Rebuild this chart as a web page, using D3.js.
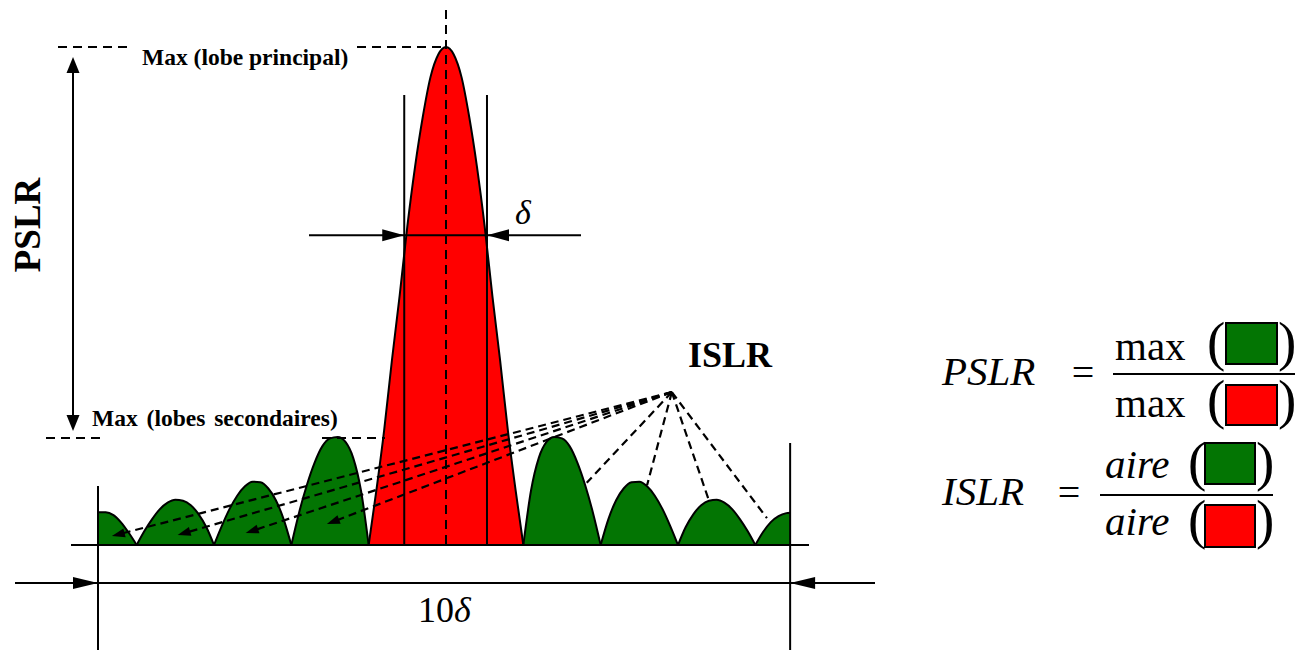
<!DOCTYPE html>
<html><head><meta charset="utf-8">
<script src="https://cdn.jsdelivr.net/npm/d3@7"></script>
<style>body{margin:0;background:#fff}svg{display:block}</style>
</head><body>
<svg id="c" width="1309" height="650"></svg>
<script>
// ---------- data (x in lobe-zero units, amplitude normalised to main peak) ----------
const mainLobeX   = [-1,-0.9,-0.8,-0.7,-0.6,-0.5,-0.4,-0.3,-0.2,-0.1,0,0.1,0.2,0.3,0.4,0.5,0.6,0.7,0.8,0.9,1];
const mainLobeAmp = [0,0.11,0.23,0.37,0.50,0.64,0.76,0.86,0.94,0.985,1,0.985,0.94,0.86,0.76,0.64,0.50,0.37,0.23,0.11,0];

const sideLobeX = [
  [-4.5,-4.4,-4.3,-4.2,-4.1,-4.0],
  [-4.0,-3.9,-3.8,-3.7,-3.6,-3.5,-3.4,-3.3,-3.2,-3.1,-3.0],
  [-3.0,-2.9,-2.8,-2.7,-2.6,-2.5,-2.4,-2.3,-2.2,-2.1,-2.0],
  [-2.0,-1.9,-1.8,-1.7,-1.6,-1.5,-1.4,-1.3,-1.2,-1.1,-1.0],
  [1.0,1.1,1.2,1.3,1.4,1.5,1.6,1.7,1.8,1.9,2.0],
  [2.0,2.1,2.2,2.3,2.4,2.5,2.6,2.7,2.8,2.9,3.0],
  [3.0,3.1,3.2,3.3,3.4,3.5,3.6,3.7,3.8,3.9,4.0],
  [4.0,4.1,4.2,4.3,4.4,4.45]
];
const sideLobeAmp = [
  [0.066,0.066,0.060,0.045,0.024,0],
  [0,0.028,0.052,0.072,0.085,0.091,0.089,0.080,0.062,0.036,0],
  [0,0.038,0.072,0.099,0.118,0.127,0.126,0.114,0.090,0.052,0],
  [0,0.065,0.12,0.165,0.198,0.214,0.217,0.207,0.175,0.11,0],
  [0,0.11,0.175,0.207,0.217,0.214,0.198,0.165,0.12,0.065,0],
  [0,0.052,0.090,0.114,0.126,0.127,0.118,0.099,0.072,0.038,0],
  [0,0.036,0.062,0.080,0.089,0.091,0.085,0.072,0.052,0.028,0],
  [0,0.026,0.046,0.058,0.064,0.065]
];

const spanEnds     = [-4.5, 4.45];      // the 10δ span
const deltaMarks   = [-0.54, 0.53];     // -3 dB width lines
const deltaLevel   = 0.622;
const sideMax      = 0.215;
const fanFocus     = [2.92, 0.307];
const fanLeftTips  = [[-4.32,0.018],[-3.47,0.02],[-2.59,0.024],[-1.54,0.042]];
const fanRightTips = [[1.82,0.125],[2.60,0.12],[3.39,0.094],[4.15,0.054]];

const labels = {
  mainMax: "Max (lobe principal)",
  sideMax: "Max (lobes secondaires)",
  pslr: "PSLR", islr: "ISLR", span: "10", delta: "δ"
};

// ---------- scales ----------
const svg = d3.select("#c");
const x = d3.scaleLinear().domain([-4.5, 4.5]).range([98, 794]);
const y = d3.scaleLinear().domain([0, 1]).range([545, 47]);

const GREEN = "#037503", RED = "#ff0000";
const serif = "'Liberation Serif','Times New Roman',serif";

function pts(xs, as){ return xs.map((v,i)=>[v, as[i]]); }
const area = d3.area().x(d=>x(d[0])).y0(y(0)).y1(d=>y(d[1])).curve(d3.curveMonotoneX);
const line = d3.line().x(d=>x(d[0])).y(d=>y(d[1])).curve(d3.curveMonotoneX);

function seg(x1,y1,x2,y2,opts={}){
  const l = svg.append("line").attr("x1",x1).attr("y1",y1).attr("x2",x2).attr("y2",y2)
    .attr("stroke","#000").attr("stroke-width",opts.w||2);
  if(opts.dash) l.attr("stroke-dasharray",opts.dash);
  return l;
}
function head(tx,ty,ang,len,wid){
  const bx = tx - len*Math.cos(ang), by = ty - len*Math.sin(ang);
  const nx = -Math.sin(ang)*wid/2, ny = Math.cos(ang)*wid/2;
  svg.append("path").attr("d",`M${tx},${ty}L${bx+nx},${by+ny}L${bx-nx},${by-ny}Z`).attr("fill","#000");
}

// ---------- lobes ----------
svg.append("path").attr("d", area(pts(mainLobeX, mainLobeAmp))).attr("fill", RED);
sideLobeX.forEach((xs,i)=>{
  svg.append("path").attr("d", area(pts(xs, sideLobeAmp[i]))).attr("fill", GREEN);
});
svg.append("path").attr("d", line(pts(mainLobeX, mainLobeAmp))).attr("fill","none").attr("stroke","#000").attr("stroke-width",2);
sideLobeX.forEach((xs,i)=>{
  svg.append("path").attr("d", line(pts(xs, sideLobeAmp[i]))).attr("fill","none").attr("stroke","#000").attr("stroke-width",2);
});

// baseline
seg(71, y(0), 809, y(0));

// span verticals and 10δ arrow
seg(x(spanEnds[0]), 486, x(spanEnds[0]), 650);
seg(x(spanEnds[1]), 443, x(spanEnds[1]), 650);
seg(15, 583, 875, 583);
head(x(spanEnds[0]), 583, 0, 25, 12);
head(x(spanEnds[1]), 583, Math.PI, 25, 12);

// δ lines and arrows
deltaMarks.forEach(d=> seg(x(d), 95, x(d), y(0)));
seg(309, y(deltaLevel), 581, y(deltaLevel));
head(x(deltaMarks[0]), y(deltaLevel), 0, 22, 12);
head(x(deltaMarks[1]), y(deltaLevel), Math.PI, 22, 12);

// centre dashed line
seg(x(0), 10, x(0), y(0), {dash:"9,6"});

// max dashed lines
seg(58, y(1), 128, y(1), {dash:"9,6"});
seg(357, y(1), x(0), y(1), {dash:"9,6"});
seg(46, y(sideMax), 101, y(sideMax), {dash:"9,6"});
seg(322, y(sideMax), 385, y(sideMax), {dash:"9,6"});

// PSLR vertical arrow
seg(73, 70, 73, 420);
head(73, 57, -Math.PI/2, 16, 13);
head(73, 431, Math.PI/2, 16, 13);

// fan of dashed lines (ISLR)
const fx = x(fanFocus[0]), fy = y(fanFocus[1]);
fanLeftTips.forEach(t=>{
  const tx = x(t[0]), ty = y(t[1]);
  const ang = Math.atan2(ty-fy, tx-fx);
  seg(fx, fy, tx - 8*Math.cos(ang), ty - 8*Math.sin(ang), {dash:"8,5", w:2.2});
  head(tx, ty, ang, 13, 9);
});
fanRightTips.forEach(t=>{
  seg(fx, fy, x(t[0]), y(t[1]), {dash:"8,5", w:2.2});
});

// ---------- texts ----------
function txt(s, px, py, size, opts={}){
  const t = svg.append("text").attr("x",px).attr("y",py).attr("font-family",serif)
    .attr("font-size",size).attr("fill","#000").text(s);
  if(opts.bold) t.attr("font-weight","bold");
  if(opts.italic) t.attr("font-style","italic");
  if(opts.anchor) t.attr("text-anchor",opts.anchor);
  if(opts.transform) t.attr("transform",opts.transform);
  if(opts.ws) t.attr("word-spacing",opts.ws);
  return t;
}
txt(labels.mainMax, 142, 65, 23.5, {bold:true});
txt(labels.sideMax, 92, 426, 23.5, {bold:true, ws:3});
txt(labels.pslr, 0, 0, 37, {bold:true, anchor:"middle", transform:"translate(40,225) rotate(-90)"});
txt(labels.islr, 730, 367, 36, {bold:true, anchor:"middle"});
const sp = txt(labels.span, 418, 622, 36);
sp.append("tspan").attr("font-style","italic").text(labels.delta);
txt(labels.delta, 523, 224, 34, {italic:true, anchor:"middle"});

// ---------- formulas ----------
function box(x0,y0,x1,y1,fill){
  svg.append("rect").attr("x",x0).attr("y",y0).attr("width",x1-x0).attr("height",y1-y0)
    .attr("fill",fill).attr("stroke","#000").attr("stroke-width",2);
}
// PSLR
txt("PSLR", 942, 385, 41, {italic:true});
txt("=", 1083, 386, 40, {anchor:"middle"});
seg(1113, 374, 1295, 374, {w:2});
txt("max", 1115, 360, 41);
txt("(", 1207, 360, 55); box(1226,323,1277,364,GREEN); txt(")", 1278, 360, 55);
txt("max", 1115, 417, 41);
txt("(", 1207, 418, 55); box(1226,385,1277,425,RED); txt(")", 1278, 418, 55);
// ISLR
txt("ISLR", 942, 505, 41, {italic:true});
txt("=", 1069, 506, 40, {anchor:"middle"});
seg(1100, 495, 1273, 495, {w:2});
txt("aire", 1105, 478, 41, {italic:true});
txt("(", 1188, 480, 55); box(1205,443,1255,484,GREEN); txt(")", 1256, 480, 55);
txt("aire", 1105, 535, 41, {italic:true});
txt("(", 1188, 538, 55); box(1205,505,1255,547,RED); txt(")", 1256, 538, 55);
</script>
</body></html>
